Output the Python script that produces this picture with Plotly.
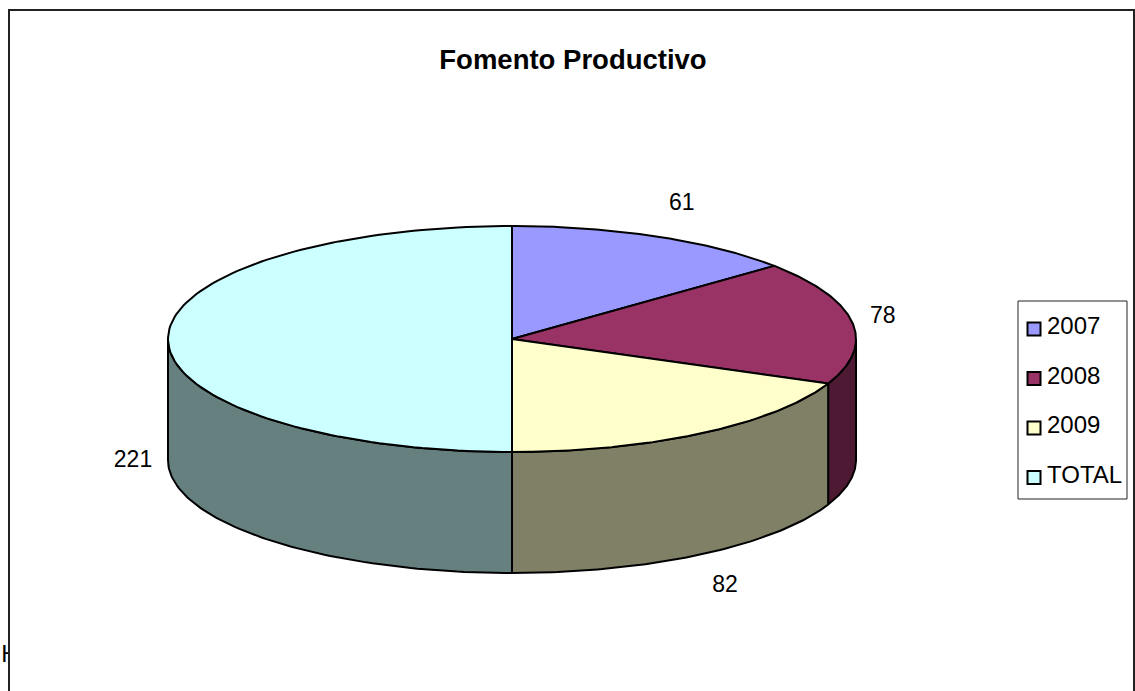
import numpy as np
import plotly.graph_objects as go

categories = ["2007", "2008", "2009", "TOTAL"]
values = [61, 78, 82, 221]
top_colors = ["#9999FF", "#993366", "#FFFFCC", "#CCFFFF"]
side_colors = ["#4D4D80", "#4D1933", "#808066", "#668080"]
title = "Fomento Productivo"

W, H = 1135, 691
CX, CY, RX, RY, DEPTH = 512, 339, 344, 113, 121
LAB_RX, LAB_RY = 378, 150
LABEL_NUDGE = [11, -3, 5, -1]
FONT = "Liberation Sans"
LEG_X0, LEG_X1, LEG_Y0, LEG_Y1 = 1018, 1127, 301, 499
LEG_STEP, LEG_FIRST, LEG_SWATCH_X, LEG_TEXT_X = 49.5, 328, 1034, 1047


def pt(deg, dy=0.0):
    t = np.radians(deg)
    return CX + RX * np.sin(t), CY - RY * np.cos(t) + dy


fig = go.Figure()

# stray clipped text behind the chart area
fig.add_trace(go.Scatter(x=[10], y=[656], mode="text", text=["H"], textposition="middle center",
                         textfont=dict(family=FONT, size=24, color="black"),
                         showlegend=False, hoverinfo="skip"))
# chart area (white) with open frame
fig.add_trace(go.Scatter(x=[9, 9, 1134, 1134], y=[H + 5, 10, 10, H + 5], mode="lines", fill="toself",
                         fillcolor="white", line=dict(color="#222222", width=2),
                         showlegend=False, hoverinfo="skip"))

total = sum(values)
edges = np.concatenate([[0], np.cumsum(values)]) / total * 360

# visible side walls (front half of the pie only)
for i in range(len(values)):
    a0, a1 = max(edges[i], 90), min(edges[i + 1], 270)
    if a1 <= a0:
        continue
    angs = np.linspace(a0, a1, 80)
    tx, ty = pt(angs)
    bx, by = pt(angs[::-1], DEPTH)
    fig.add_trace(go.Scatter(x=np.r_[tx, bx, tx[0]], y=np.r_[ty, by, ty[0]], mode="lines", fill="toself",
                             fillcolor=side_colors[i], line=dict(color="black", width=2),
                             showlegend=False, hoverinfo="skip"))

# top faces
for i in range(len(values)):
    angs = np.linspace(edges[i], edges[i + 1], 120)
    ex, ey = pt(angs)
    fig.add_trace(go.Scatter(x=np.r_[CX, ex, CX], y=np.r_[CY, ey, CY], mode="lines", fill="toself",
                             fillcolor=top_colors[i], line=dict(color="black", width=2),
                             name=categories[i], showlegend=False, hoverinfo="skip"))

# data labels
for i, v in enumerate(values):
    mid = np.radians((edges[i] + edges[i + 1]) / 2)
    extra = DEPTH if np.cos(mid) < 0.05 else 0
    fig.add_trace(go.Scatter(x=[CX + LAB_RX * np.sin(mid) + LABEL_NUDGE[i]],
                             y=[CY - LAB_RY * np.cos(mid) + extra + 1],
                             mode="text", text=[str(v)], textposition="middle center",
                             textfont=dict(family=FONT, size=23, color="black"),
                             showlegend=False, hoverinfo="skip"))

# legend box and entries
fig.add_trace(go.Scatter(x=[LEG_X0, LEG_X1, LEG_X1, LEG_X0, LEG_X0], y=[LEG_Y0, LEG_Y0, LEG_Y1, LEG_Y1, LEG_Y0],
                         mode="lines", fill="toself", fillcolor="white", line=dict(color="#222222", width=1),
                         showlegend=False, hoverinfo="skip"))
leg_y = [LEG_FIRST + LEG_STEP * k for k in range(len(categories))]
fig.add_trace(go.Scatter(x=[LEG_SWATCH_X] * len(categories), y=[y + 1 for y in leg_y], mode="markers",
                         marker=dict(symbol="square", size=13, color=top_colors,
                                     line=dict(color="black", width=2)),
                         showlegend=False, hoverinfo="skip"))
fig.add_trace(go.Scatter(x=[LEG_TEXT_X] * len(categories), y=leg_y, mode="text", text=categories,
                         textposition="middle right",
                         textfont=dict(family=FONT, size=24, color="black"),
                         showlegend=False, hoverinfo="skip"))

fig.update_layout(
    width=W, height=H, autosize=False,
    margin=dict(l=0, r=0, t=0, b=0),
    paper_bgcolor="white", plot_bgcolor="white",
    xaxis=dict(range=[0, W], visible=False, domain=[0, 1], fixedrange=True),
    yaxis=dict(range=[H, 0], visible=False, domain=[0, 1], fixedrange=True),
    title=dict(text="<b>%s</b>" % title, x=573 / W, xanchor="center", y=1 - 59 / H, yanchor="middle",
               font=dict(family=FONT, size=27.5, color="black")),
    showlegend=False,
)

fig.write_html("out.html", config=dict(displayModeBar=False),
               post_script="document.body.style.margin='0';document.body.style.overflow='hidden';")
